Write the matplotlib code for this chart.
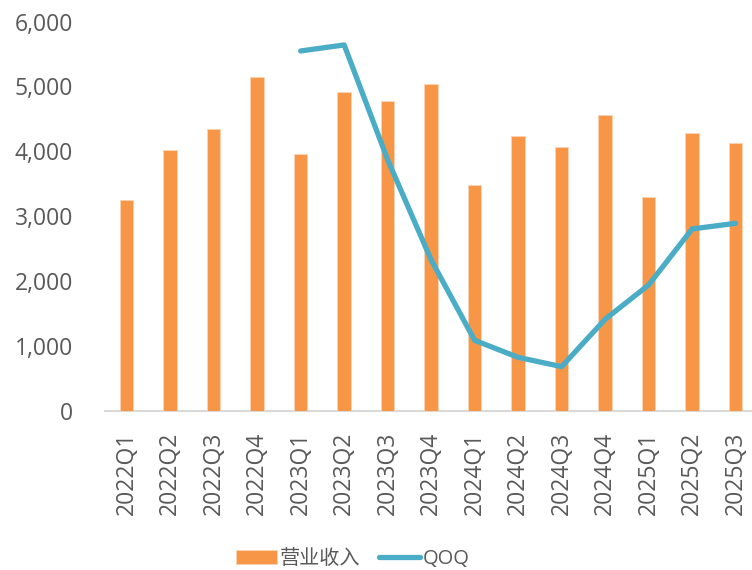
import matplotlib
matplotlib.use("Agg")
import matplotlib.pyplot as plt
import numpy as np

plt.rcParams['font.family'] = ['Open Sans', 'Noto Sans CJK SC', 'DejaVu Sans']

quarters = ['2022Q1', '2022Q2', '2022Q3', '2022Q4',
            '2023Q1', '2023Q2', '2023Q3', '2023Q4',
            '2024Q1', '2024Q2', '2024Q3', '2024Q4',
            '2025Q1', '2025Q2', '2025Q3']
revenue = [3250, 4017, 4340, 5147,
           3955, 4916, 4777, 5035,
           3481, 4232, 4063, 4556,
           3296, 4279, 4129]
# QOQ series starts from 2023Q1
qoq = [np.nan, np.nan, np.nan, np.nan,
       5548, 5641, 3870, 2325,
       1085, 823, 679, 1410,
       1939, 2803, 2890]
yticks = [0, 1000, 2000, 3000, 4000, 5000, 6000]

orange = '#F79646'
teal = '#4BACC6'
grey_txt = '#595959'

fig = plt.figure(figsize=(7.52, 5.70), dpi=100)
ax = fig.add_axes([0.1396, 0.2795, 0.8675, 0.6825])

x = np.arange(len(quarters))
bars = ax.bar(x, revenue, width=0.31, color=orange, edgecolor='#FBD3B4',
              linewidth=0.6, label='营业收入', zorder=2)
line, = ax.plot(x, qoq, color=teal, linewidth=3.8, solid_capstyle='round',
                solid_joinstyle='round', label='QOQ', zorder=3)

ax.set_xlim(-0.5, len(quarters) - 0.5)
ax.set_ylim(0, 6000)
ax.set_yticks(yticks)
ax.set_yticklabels([f'{v:,}' for v in yticks])
ax.set_xticks(x)
ax.set_xticklabels(quarters, rotation=90)

for side in ['top', 'right', 'left']:
    ax.spines[side].set_visible(False)
ax.spines['bottom'].set_color('#D9D9D9')
ax.spines['bottom'].set_linewidth(1.5)
ax.spines['bottom'].set_zorder(1)

ax.tick_params(axis='y', length=0, pad=23, labelsize=16.5, labelcolor=grey_txt)
ax.tick_params(axis='x', length=0, pad=15, labelsize=16.5, labelcolor=grey_txt)

leg = fig.legend(handles=[bars, line], labels=['营业收入', 'QOQ'],
                 loc='center', bbox_to_anchor=(353 / 752, 1 - 559 / 570),
                 ncol=2, frameon=False, fontsize=14.5, handlelength=2.0,
                 handleheight=0.72, handletextpad=0.15, columnspacing=0.95)
for t in leg.get_texts():
    t.set_color(grey_txt)

fig.savefig('out.png', dpi=100)
